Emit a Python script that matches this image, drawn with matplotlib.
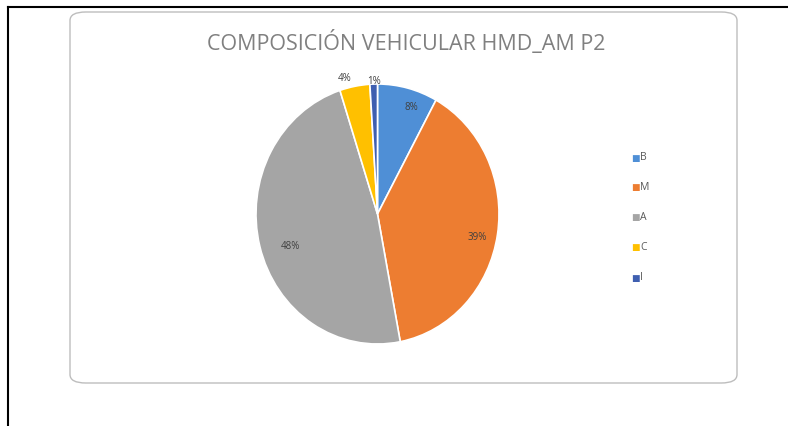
import matplotlib.pyplot as plt
from matplotlib.patches import FancyBboxPatch
from matplotlib.lines import Line2D

categories = ['B', 'M', 'A', 'C', 'I']
shares = [8, 39, 48, 4, 1]
pct_labels = ['8%', '39%', '48%', '4%', '1%']
colors = ['#4F8FD6', '#ED7D31', '#A5A5A5', '#FFC000', '#3F5FB0']
title = 'COMPOSICIÓN VEHICULAR HMD_AM P2'

W, H = 788, 426
fig = plt.figure(figsize=(W / 100, H / 100), dpi=100)
fig.patch.set_facecolor('white')

# outer black frame (top and left only)
fig.add_artist(Line2D([8 / W, 8 / W], [0, 1 - 7 / H], color='black', lw=1.5))
fig.add_artist(Line2D([8 / W, 1], [1 - 7 / H, 1 - 7 / H], color='black', lw=1.5))

# chart area with rounded corners, kept behind the pie
box = FancyBboxPatch((70 / W, 1 - 383 / H), (737 - 70) / W, (383 - 12) / H,
                     boxstyle='round,pad=0,rounding_size=0.02',
                     transform=fig.transFigure, facecolor='white',
                     edgecolor='#BDBDBD', lw=1, zorder=-5)
fig.add_artist(box)

fig.text(406 / W, 1 - 43 / H, title, ha='center', va='center',
         fontsize=15.5, color='#808080', family='Open Sans')

# pie is drawn slightly stretched vertically, like the source
ax = fig.add_axes([256 / W, 1 - 344 / H, 243 / W, 260 / H])
ax.set_zorder(2)
wedges, _ = ax.pie(shares, colors=colors, startangle=90, counterclock=False,
                   radius=1, wedgeprops=dict(edgecolor='white', linewidth=1.2))
ax.set_aspect('auto')
ax.set_xlim(-1, 1)
ax.set_ylim(-1, 1)

# percent labels
lab_pos = [(0.28, 0.82), (0.82, -0.18), (-0.72, -0.25), (-0.27, 1.04), (-0.03, 1.02)]
for (x, y), t in zip(lab_pos, pct_labels):
    ax.text(x, y, t, ha='center', va='center', fontsize=7, color='#404040',
            family='Open Sans')

# legend
for i, (c, col) in enumerate(zip(categories, colors)):
    y = 1 - (158 + i * 30) / H
    fig.text(631 / W, y, '■', color=col, fontsize=6.5, ha='left', va='center')
    fig.text(640 / W, y, c, color='#595959', fontsize=7.5, ha='left', va='center',
             family='Open Sans')

fig.savefig('out.png', dpi=100, facecolor='white')
